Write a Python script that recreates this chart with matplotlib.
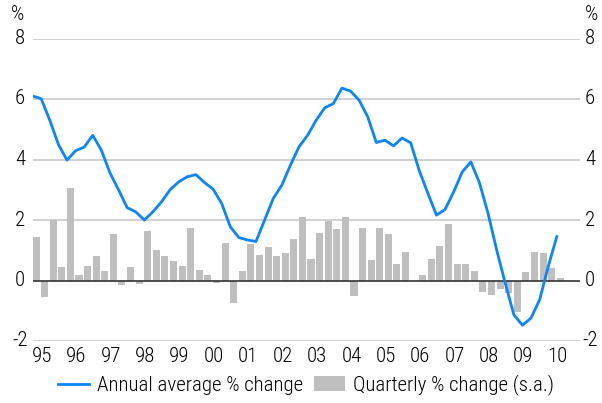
import numpy as np
import matplotlib.pyplot as plt
import matplotlib.transforms as mtrans

# annual average % change (line), quarterly 1995Q1 - 2010Q2
annual = [6.10, 6.01, 5.30, 4.50, 3.98, 4.29, 4.41, 4.80, 4.31, 3.56,
          3.00, 2.41, 2.27, 2.00, 2.27, 2.60, 3.00, 3.26, 3.43, 3.50,
          3.24, 3.02, 2.55, 1.78, 1.42, 1.34, 1.29, 2.00, 2.71, 3.15,
          3.81, 4.42, 4.80, 5.30, 5.71, 5.85, 6.36, 6.26, 5.96, 5.41,
          4.56, 4.64, 4.45, 4.71, 4.55, 3.63, 2.88, 2.16, 2.35, 2.93,
          3.59, 3.92, 3.23, 2.22, 1.01, -0.09, -1.13, -1.48, -1.24, -0.64,
          0.46, 1.45]

# quarterly % change (s.a.) (bars)
quarterly = [1.45, -0.56, 2.00, 0.46, 3.07, 0.19, 0.49, 0.81, 0.33, 1.54,
             -0.14, 0.46, -0.10, 1.65, 1.01, 0.81, 0.65, 0.48, 1.73, 0.35,
             0.18, -0.07, 1.24, -0.76, 0.32, 1.21, 0.85, 1.10, 0.81, 0.90,
             1.38, 2.09, 0.71, 1.57, 1.98, 1.69, 2.09, -0.50, 1.73, 0.68,
             1.73, 1.54, 0.54, 0.94, 0.00, 0.19, 0.71, 1.13, 1.86, 0.54,
             0.54, 0.31, -0.37, -0.48, -0.27, -0.40, -1.03, 0.28, 0.94, 0.90,
             0.41, 0.09]

years = ['95', '96', '97', '98', '99', '00', '01', '02', '03', '04',
         '05', '06', '07', '08', '09', '10']
yticks = [-2, 0, 2, 4, 6, 8]

plt.rcParams['font.family'] = ['Roboto Condensed', 'Liberation Sans']
plt.rcParams['font.weight'] = 300
plt.rcParams['axes.unicode_minus'] = False

fig = plt.figure(figsize=(6.02, 4.03), dpi=100)
ax = fig.add_axes([32.5 / 602, 62 / 403, (580 - 32.5) / 602, (341 - 38.5) / 403])

idx = np.arange(len(quarterly))
ax.plot(idx - 0.4, annual, color='#0a84ff', lw=2, zorder=3,
        label='Annual average % change')
ax.bar(idx, quarterly, width=0.82, color='#bfbfbf', zorder=2,
       label='Quarterly % change (s.a.)')

ax.set_ylim(-2, 8)
ax.set_xlim(-0.41, 63.3)
ax.set_yticks(yticks)
ax.set_yticklabels([])
for v in yticks:
    if v != 0:
        ax.axhline(v, color='#c8c8c8', lw=1.2, zorder=1)
ax.axhline(0, color='#333333', lw=1.2, zorder=2.5)

ax.set_xticks(np.arange(len(years)) * 4 + 0.7)
ax.set_xticklabels(years)
for s in ax.spines.values():
    s.set_visible(False)
ax.tick_params(axis='both', length=0, labelsize=15)
ax.tick_params(axis='x', pad=4)

# centred y labels on both sides
tr = mtrans.blended_transform_factory(fig.transFigure, ax.transData)
for v in yticks:
    ax.text(20 / 602, v, str(v), transform=tr, ha='center', va='center',
            fontsize=15)
    ax.text(590 / 602, v, str(v), transform=tr, ha='center', va='center',
            fontsize=15)

fig.text(17 / 602, 1 - 15 / 403, '%', fontsize=15, va='center', ha='center')
fig.text(591 / 602, 1 - 15 / 403, '%', fontsize=15, va='center', ha='center')

fig.legend(loc='center', bbox_to_anchor=(306 / 602, 1 - 385 / 403),
           ncol=2, frameon=False, fontsize=15, handlelength=1.5,
           columnspacing=0.5, handletextpad=0.4)

fig.savefig('out.png', dpi=100)
